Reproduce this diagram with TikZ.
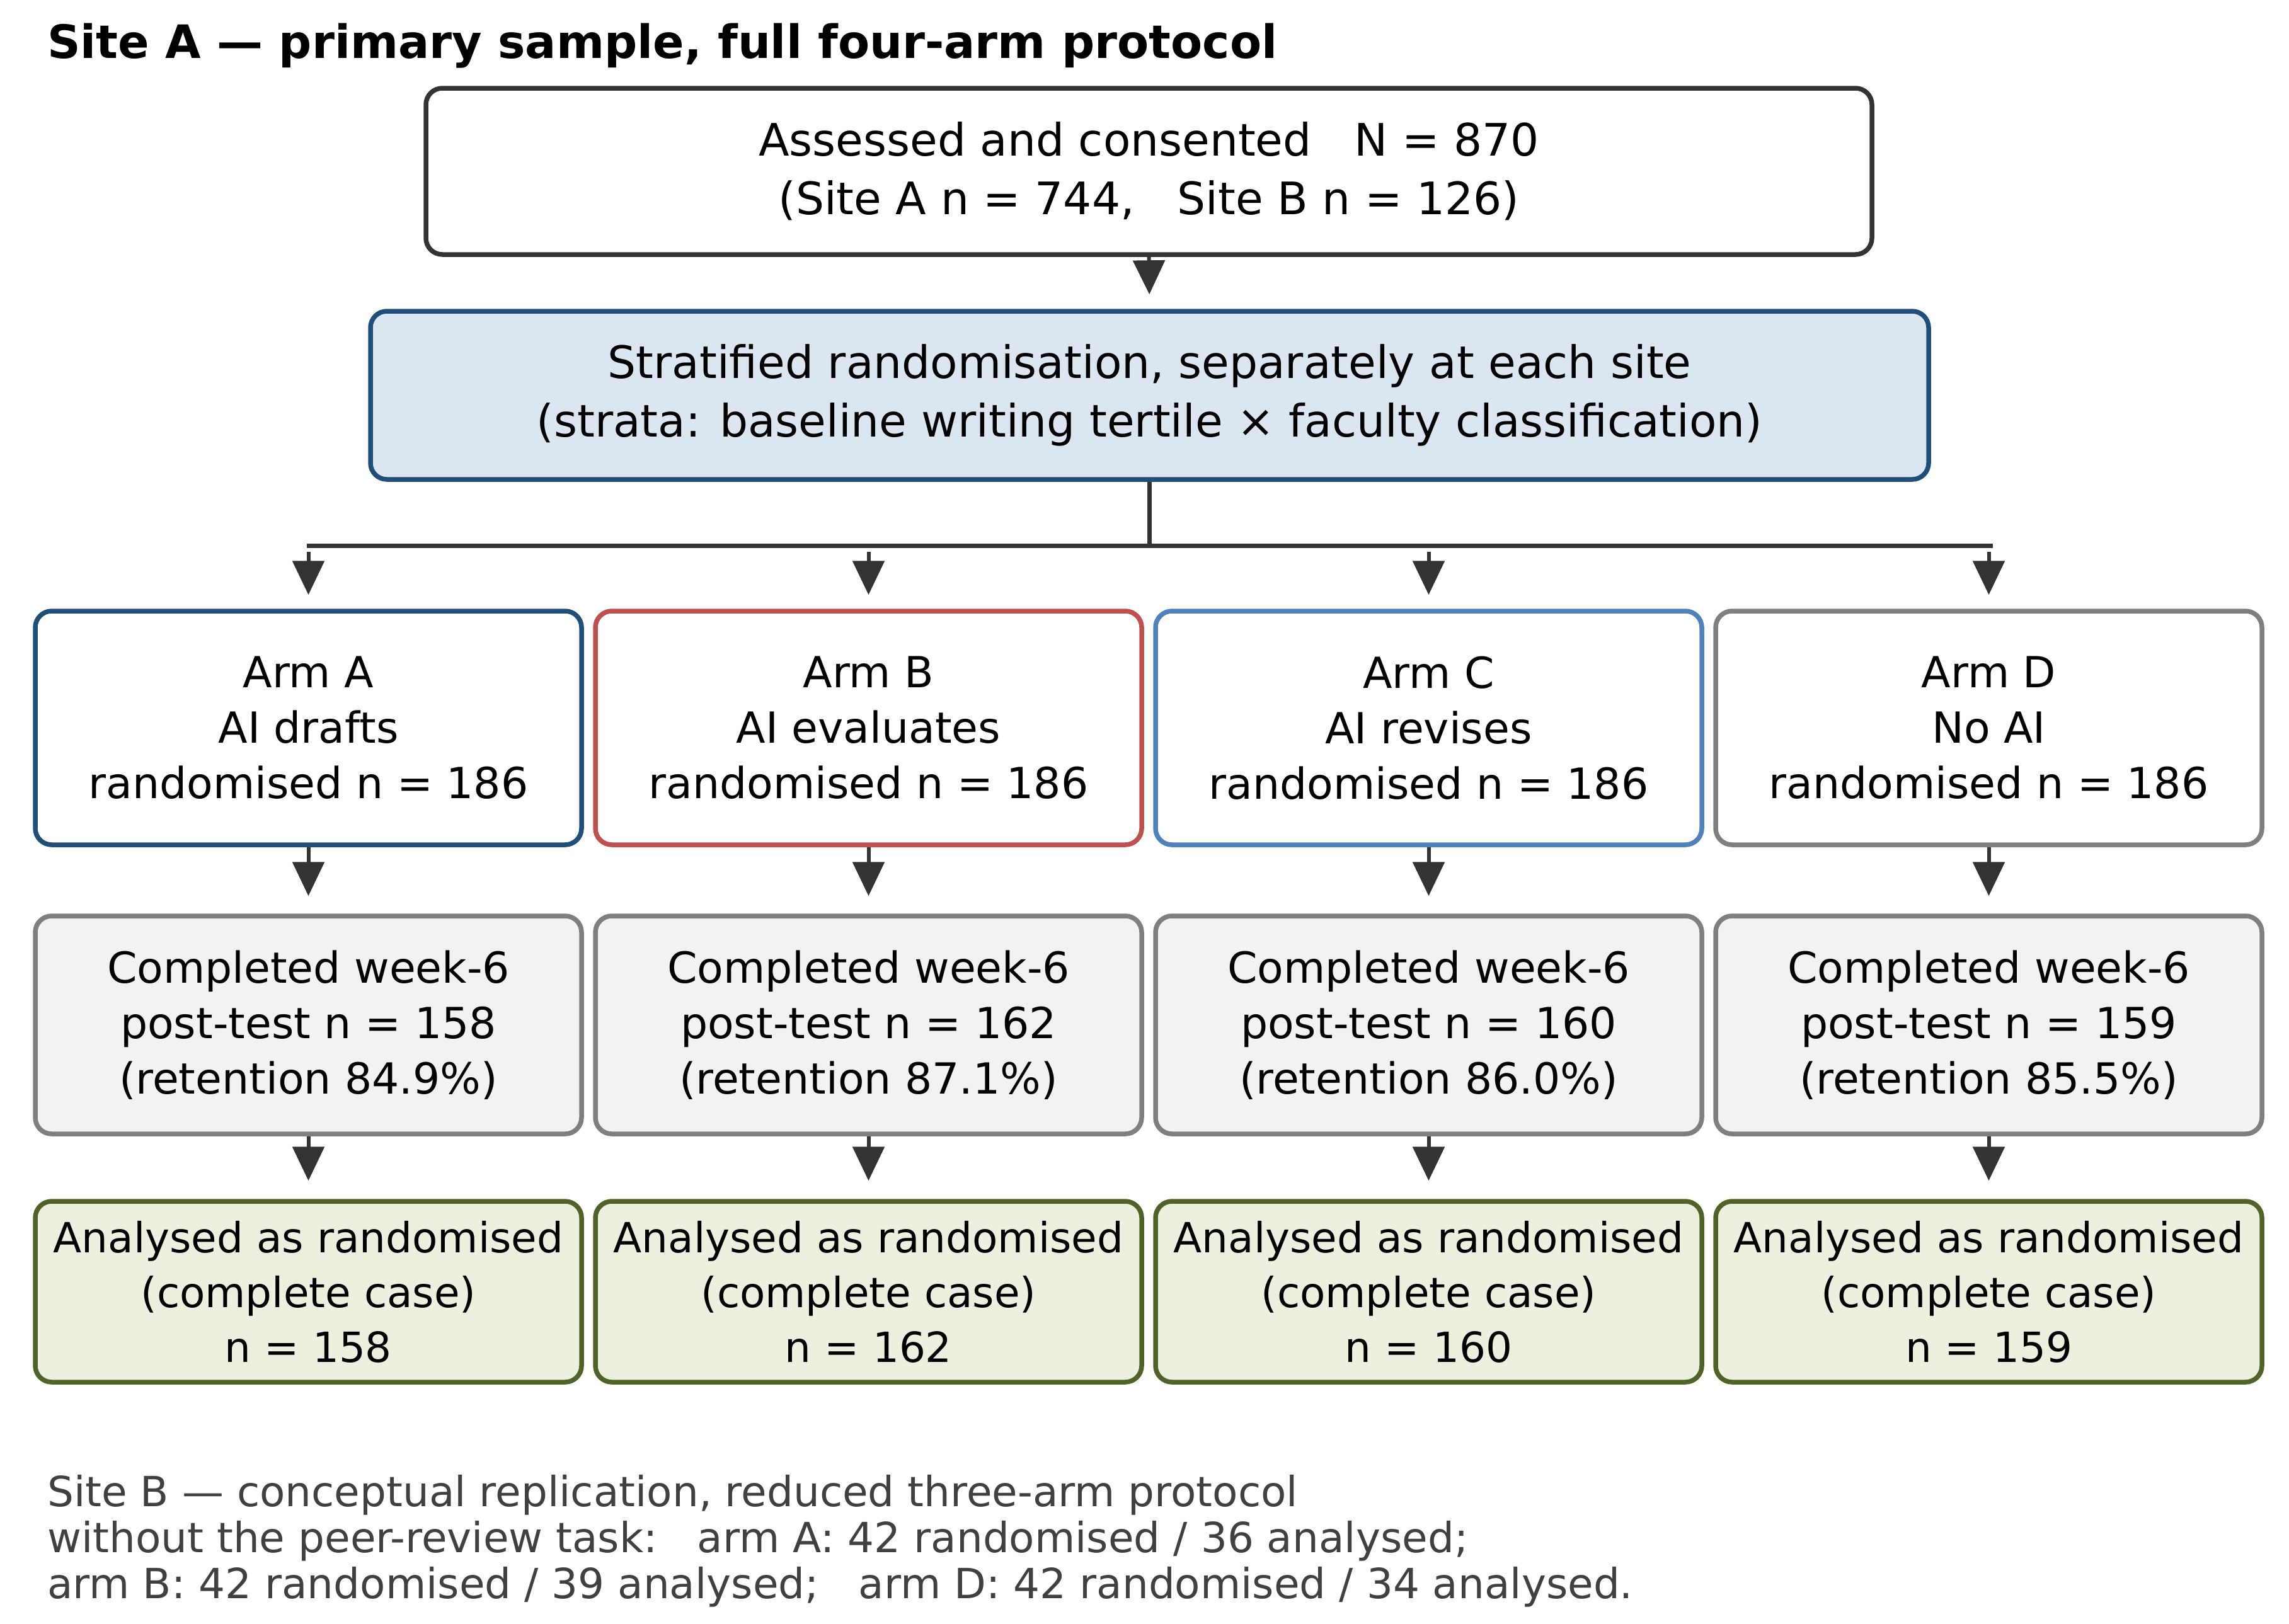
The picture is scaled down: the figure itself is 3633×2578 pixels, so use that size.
\documentclass[tikz,border=0pt]{standalone}
\usepackage{fontspec}
\setmainfont{DejaVu Sans}
\usetikzlibrary{arrows.meta}
\definecolor{dark}{HTML}{333333}
\definecolor{stratfill}{HTML}{DCE6F1}
\definecolor{navy}{HTML}{1F4E79}
\definecolor{armred}{HTML}{C0504D}
\definecolor{armblue}{HTML}{4F81BD}
\definecolor{armgray}{HTML}{7F7F7F}
\definecolor{compfill}{HTML}{F2F2F2}
\definecolor{anfill}{HTML}{EBF1DE}
\definecolor{anborder}{HTML}{4F6228}
\definecolor{foot}{HTML}{404040}
\tikzset{
  box/.style={draw, rounded corners=26pt, line width=7.5pt, align=center, inner sep=0pt, text=black},
  bigtext/.style={font=\fontsize{71}{93}\selectfont},
  armtext/.style={font=\fontsize{68}{88}\selectfont},
  armbox/.style={box, armtext, fill=white, minimum width=867pt, minimum height=371pt},
  compbox/.style={box, armtext, fill=compfill, draw=armgray, minimum width=867pt, minimum height=346pt},
  anbox/.style={box, font=\fontsize{66}{87}\selectfont, fill=anfill, draw=anborder, minimum width=867pt, minimum height=287pt},
  flow/.style={draw=dark, line width=6pt, -{Triangle[length=54pt,width=50pt]}},
  bar/.style={draw=dark, line width=7pt},
}
\begin{document}
\begin{tikzpicture}[x=1pt,y=-1pt]
\useasboundingbox[fill=white] (0,0) rectangle (3633,2578);

\node[anchor=base west, inner sep=0pt, font=\bfseries\fontsize{73}{88}\selectfont] (title) at (75,92) {Site A — primary sample, full four-arm protocol};

\node[box, bigtext, draw=dark, fill=white, minimum width=2295pt, minimum height=264pt] (top) at (1823.5,272) {Assessed and consented\ \ \ N = 870\\(Site A n = 744,\ \ \ Site B n = 126)};

\node[box, bigtext, draw=navy, fill=stratfill, minimum width=2473pt, minimum height=267pt] (strat) at (1824.5,627.5) {Stratified randomisation, separately at each site\\(strata: baseline writing tertile × faculty classification)};

\node[armbox, draw=navy] (armA) at (489.5,1155.5) {Arm A\\AI drafts\\randomised n = 186};
\node[armbox, draw=armred] (armB) at (1378.5,1155.5) {Arm B\\AI evaluates\\randomised n = 186};
\node[armbox, draw=armblue] (armC) at (2267.5,1155.5) {Arm C\\AI revises\\randomised n = 186};
\node[armbox, draw=armgray] (armD) at (3156.5,1155.5) {Arm D\\No AI\\randomised n = 186};

\node[compbox] (compA) at (489.5,1627) {Completed week-6\\post-test n = 158\\(retention 84.9\%)};
\node[compbox] (compB) at (1378.5,1627) {Completed week-6\\post-test n = 162\\(retention 87.1\%)};
\node[compbox] (compC) at (2267.5,1627) {Completed week-6\\post-test n = 160\\(retention 86.0\%)};
\node[compbox] (compD) at (3156.5,1627) {Completed week-6\\post-test n = 159\\(retention 85.5\%)};

\node[anbox] (anA) at (489.5,2050.5) {Analysed as randomised\\(complete case)\\n = 158};
\node[anbox] (anB) at (1378.5,2050.5) {Analysed as randomised\\(complete case)\\n = 162};
\node[anbox] (anC) at (2267.5,2050.5) {Analysed as randomised\\(complete case)\\n = 160};
\node[anbox] (anD) at (3156.5,2050.5) {Analysed as randomised\\(complete case)\\n = 159};

% connectors
\path[flow, shorten >=23pt] (top.south) -- (strat.north);

\coordinate (hub) at (1824.5,866);
\coordinate (barL) at (487,866);
\coordinate (barR) at (3163,866);
\path[bar] (strat.south) -- (hub);
\path[bar] (barL) -- (barR);
\foreach \a in {A,B,C,D}{
  \coordinate (br\a) at (arm\a.north |- 0,876);
  \path[flow, shorten >=22pt] (br\a) -- (arm\a.north);
  \path[flow, shorten >=28pt] (arm\a.south) -- (comp\a.north);
  \path[flow, shorten >=29pt] (comp\a.south) -- (an\a.north);
}

\node[anchor=base west, inner sep=0pt, align=left, text=foot, font=\fontsize{66}{73}\selectfont] (footer) at (75,2537) {Site B — conceptual replication, reduced three-arm protocol\\without the peer-review task:\ \ \ arm A: 42 randomised / 36 analysed;\\arm B: 42 randomised / 39 analysed;\ \ \ arm D: 42 randomised / 34 analysed.};
\end{tikzpicture}
\end{document}
